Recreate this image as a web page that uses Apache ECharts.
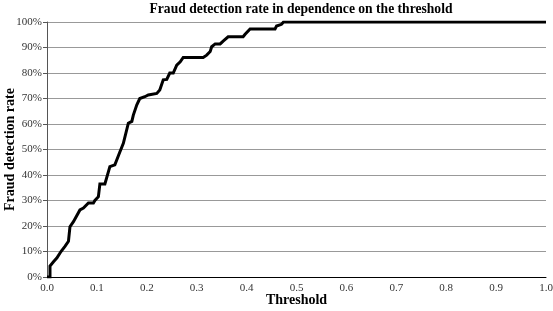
<!DOCTYPE html>
<html>
<head>
<meta charset="utf-8">
<script src="https://cdn.jsdelivr.net/npm/echarts@6/dist/echarts.min.js"></script>
<style>html,body{margin:0;padding:0;background:#fff;}#c{width:553px;height:311px;}</style>
</head>
<body>
<div id="c"></div>
<script>
const titleText = "Fraud detection rate in dependence on the threshold";
const xName = "Threshold";
const yName = "Fraud detection rate";
const thresholds = [0.000,0.006,0.006,0.013,0.020,0.028,0.036,0.043,0.046,0.053,0.056,0.066,0.073,0.083,0.093,0.096,0.103,0.106,0.116,0.126,0.136,0.146,0.153,0.163,0.170,0.173,0.180,0.186,0.196,0.203,0.220,0.226,0.233,0.240,0.246,0.253,0.260,0.267,0.273,0.313,0.320,0.327,0.330,0.337,0.347,0.353,0.363,0.393,0.397,0.407,0.457,0.460,0.470,0.474,1.000];
const rates = [0,0,4.3,6,7.5,10,12,14,19.7,21.7,22.4,26.3,27,29,29,30,31.5,36.5,36.5,43.3,44,49,52.4,60.3,61,63.5,67.5,70,70.7,71.4,72,73.3,77.3,77.5,80,80,83.1,84.4,86.1,86.1,87,88.4,90.3,91.4,91.4,92.5,94.2,94.2,95.2,97.3,97.3,98.4,99.1,100,100];
const data = thresholds.map((t,i)=>[t,rates[i]]);
const chart = echarts.init(document.getElementById('c'));
const serif = '"Liberation Serif","Times New Roman",serif';
chart.setOption({
  animation:false,
  title:{text:titleText,left:296,top:-3,textAlign:'center',textStyle:{fontFamily:serif,fontWeight:'bold',fontSize:13.6,color:'#000'}},
  grid:{left:47,right:7,top:22,bottom:34,containLabel:false,outerBoundsMode:'none'},
  xAxis:{type:'value',min:0,max:1,interval:0.1,
    name:xName,nameLocation:'middle',nameGap:23,nameMoveOverlap:false,
    nameTextStyle:{fontFamily:serif,fontWeight:'bold',fontSize:14,color:'#000',verticalAlign:'middle'},
    axisLine:{lineStyle:{color:'#000',width:1}},axisTick:{show:false},
    axisLabel:{fontFamily:serif,fontSize:11,color:'#333',margin:6,formatter:v=>v.toFixed(1)},
    splitLine:{show:false}},
  yAxis:{type:'value',min:0,max:100,interval:10,
    name:yName,nameLocation:'middle',nameGap:37,nameRotate:90,nameMoveOverlap:false,
    nameTextStyle:{fontFamily:serif,fontWeight:'bold',fontSize:14,color:'#000',verticalAlign:'middle'},
    axisLine:{show:true,lineStyle:{color:'#555',width:1}},axisTick:{show:true,length:4,lineStyle:{color:'#555'}},
    axisLabel:{fontFamily:serif,fontSize:11,color:'#333',margin:5,formatter:'{value}%'},
    splitLine:{lineStyle:{color:'#999',width:1}}},
  series:[{type:'line',data:data,showSymbol:false,symbol:'none',lineStyle:{color:'#000',width:3,join:'miter'}}]
});
</script>
</body>
</html>
